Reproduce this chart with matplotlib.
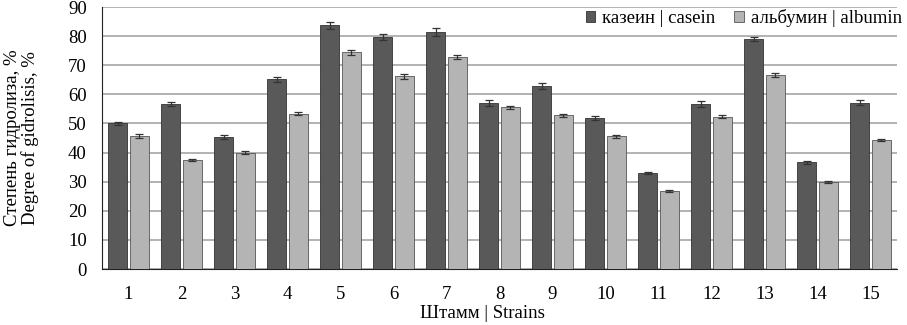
import matplotlib
matplotlib.use("Agg")
import matplotlib.pyplot as plt
import numpy as np

strains = [str(i) for i in range(1, 16)]
casein = [50.0, 56.6, 45.3, 65.2, 83.7, 79.6, 81.5, 57.0, 62.8, 51.9, 32.9, 56.7, 79.0, 36.6, 57.1]
casein_err = [0.6, 0.7, 0.8, 0.8, 1.2, 1.0, 1.3, 0.9, 1.1, 0.7, 0.4, 0.9, 0.8, 0.6, 0.9]
albumin = [45.6, 37.4, 40.0, 53.4, 74.4, 66.2, 72.7, 55.6, 52.8, 45.6, 26.8, 52.3, 66.7, 30.0, 44.4]
albumin_err = [0.7, 0.4, 0.4, 0.6, 0.9, 0.8, 0.7, 0.5, 0.5, 0.6, 0.4, 0.6, 0.6, 0.3, 0.4]

plt.rcParams['font.family'] = 'serif'
plt.rcParams['font.serif'] = ['Liberation Serif', 'DejaVu Serif']
FS = 13.5

fig = plt.figure(figsize=(9.07, 3.25), dpi=100)
ax = fig.add_axes([102/907, 1-269/325, 795/907, 262/325])

x = np.arange(len(strains))
w = 0.365
ekw = dict(ecolor='#333333', elinewidth=0.9, capsize=3, capthick=0.9, zorder=4)
ax.bar(x - w/2 - 0.02, casein, w, yerr=casein_err, color='#595959', edgecolor='#333333',
       linewidth=0.6, error_kw=ekw, label='казеин | casein', zorder=3)
ax.bar(x + w/2 + 0.02, albumin, w, yerr=albumin_err, color='#b4b4b4', edgecolor='#555555',
       linewidth=0.6, error_kw=ekw, label='альбумин | albumin', zorder=3)

ax.set_xlim(-0.5, len(strains) - 0.5)
ax.set_ylim(0, 90)
ax.set_yticks(np.arange(0, 91, 10))
ax.set_xticks(x)
ax.set_xticklabels(strains)
ax.tick_params(axis='both', labelsize=FS, length=0)
ax.tick_params(axis='x', pad=12)
ax.tick_params(axis='y', pad=11)
ax.yaxis.grid(True, color='#a6a6a6', linewidth=1.2, zorder=0)
ax.set_axisbelow(True)
for s in ['top', 'right']:
    ax.spines[s].set_visible(False)
ax.spines['left'].set_color('#222222')
ax.spines['bottom'].set_color('#222222')

ax.set_ylabel('Степень гидролиза, %\nDegree of gidrolisis, %', fontsize=FS, linespacing=1.0)
ax.yaxis.set_label_coords((39-102)/795, 0.5)
ax.set_xlabel('Штамм | Strains', fontsize=FS)
ax.xaxis.set_label_coords((482-102)/795, (269-305)/262)

leg = ax.legend(loc='upper right', bbox_to_anchor=(1.021, 1.035), ncol=2, frameon=False, fontsize=FS,
                handlelength=0.5, handleheight=0.5, handletextpad=0.4, columnspacing=1.0,
                borderaxespad=0.2)

fig.savefig('out.png', dpi=100)
